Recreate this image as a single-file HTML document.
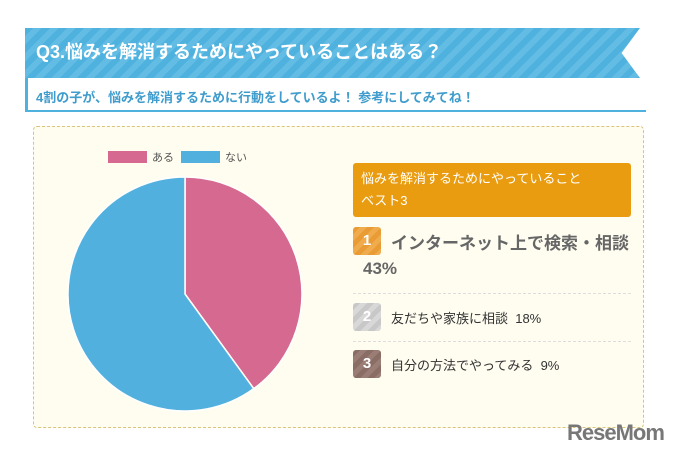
<!DOCTYPE html>
<html><head><meta charset="utf-8"><style>
body{margin:0;width:677px;height:453px;background:#fff;position:relative;overflow:hidden;font-family:"Liberation Sans","Noto Sans CJK JP",sans-serif}
.a{position:absolute}
</style></head><body>
<div class="a" style="left:25px;top:28px;width:615px;height:50px;background:repeating-linear-gradient(135deg,#4fb1de 0 6px,#62bce4 6px 12px);clip-path:polygon(0 0,100% 0,97% 50%,100% 100%,0 100%)"></div>
<div class="a" style="left:36px;top:38px;color:#fff;font-size:18px;font-weight:bold">Q3.悩みを解消するためにやっていることはある？</div>
<div class="a" style="left:25px;top:78px;width:618px;height:32px;border-left:3px solid #4fb1de;border-bottom:2px solid #4fb1de;background:#fff"></div>
<div class="a" style="left:36px;top:87px;color:#3f9ccc;font-size:13px;font-weight:bold">4割の子が、悩みを解消するために行動をしているよ！ 参考にしてみてね！</div>
<div class="a" style="left:33px;top:126px;width:609px;height:300px;border:1px dashed #d9c47a;border-radius:4px;background:#fffdf0"></div>
<svg class="a" style="left:0;top:0" width="677" height="453" id="chart"></svg>
<div class="a" style="left:353px;top:163px;width:278px;height:54px;background:#e99c0f;border-radius:3px;color:#fff;font-size:13px;line-height:22px;padding:5px 0 0 8px;box-sizing:border-box">悩みを解消するためにやっていること<br>ベスト3</div>
<div class="a" style="left:353px;top:227px;width:28px;height:28px;border-radius:3px;background:repeating-linear-gradient(135deg,#e99c35 0 5px,#f0ac4c 5px 10px);color:#fff;font-weight:bold;text-align:center;line-height:28px;font-size:15px">1</div>
<div class="a" style="left:391px;top:229px;font-size:17px;font-weight:bold;color:#666">インターネット上で検索・相談</div>
<div class="a" style="left:363px;top:259px;font-size:17px;font-weight:bold;color:#666">43%</div>
<div class="a" style="left:353px;top:293px;width:278px;border-top:1px dashed #ddd"></div>
<div class="a" style="left:353px;top:303px;width:28px;height:28px;border-radius:3px;background:repeating-linear-gradient(135deg,#c8c8c8 0 5px,#d8d8d8 5px 10px);color:#fff;font-weight:bold;text-align:center;line-height:28px;font-size:15px">2</div>
<div class="a" style="left:391px;top:308px;font-size:13px;color:#333">友だちや家族に相談&nbsp; 18%</div>
<div class="a" style="left:353px;top:341px;width:278px;border-top:1px dashed #ddd"></div>
<div class="a" style="left:353px;top:350px;width:28px;height:28px;border-radius:3px;background:repeating-linear-gradient(135deg,#8a6e66 0 5px,#9a7e76 5px 10px);color:#fff;font-weight:bold;text-align:center;line-height:28px;font-size:15px">3</div>
<div class="a" style="left:391px;top:355px;font-size:13px;color:#333">自分の方法でやってみる&nbsp; 9%</div>
<div class="a" style="left:567px;top:420px;font-size:22px;font-weight:bold;color:#777;letter-spacing:-1px">ReseMom</div>
<script>
const categories=["ある","ない"];
const values=[40,60];
const colors=["#d5698f","#52b0de"];
const svg=document.getElementById('chart');
const NS='http://www.w3.org/2000/svg';
const cx=185,cy=294,r=117;
const total=values.reduce((a,b)=>a+b,0);
let ang=0;
values.forEach((v,i)=>{
  const a0=ang,a1=ang+v/total*2*Math.PI;ang=a1;
  const x0=cx+r*Math.sin(a0),y0=cy-r*Math.cos(a0),x1=cx+r*Math.sin(a1),y1=cy-r*Math.cos(a1);
  const p=document.createElementNS(NS,'path');
  p.setAttribute('d',`M${cx},${cy}L${x0},${y0}A${r},${r} 0 ${a1-a0>Math.PI?1:0} 1 ${x1},${y1}Z`);
  p.setAttribute('fill',colors[i]);p.setAttribute('stroke','#fff');p.setAttribute('stroke-width','1.5');
  
  
  svg.appendChild(p);
  const lx=108+i*73;
  const s=document.createElementNS(NS,'rect');
  s.setAttribute('x',lx);s.setAttribute('y',151);s.setAttribute('width',39);s.setAttribute('height',12);s.setAttribute('fill',colors[i]);
  
  
  svg.appendChild(s);
  const t=document.createElementNS(NS,'text');
  t.setAttribute('x',lx+44);t.setAttribute('y',161);t.setAttribute('font-size','11');t.setAttribute('fill','#555');
  t.textContent=categories[i];
  
  
  svg.appendChild(t);
});
</script>
</body></html>
